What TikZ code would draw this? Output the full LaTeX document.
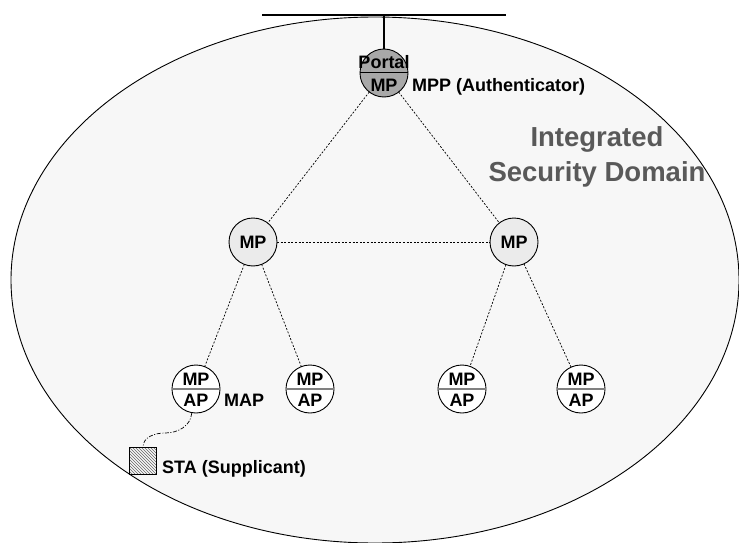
\documentclass[tikz,border=0pt]{standalone}
\usepackage{fontspec}
\setmainfont{Liberation Sans}
\usetikzlibrary{patterns}
\definecolor{bgfill}{HTML}{F7F7F7}
\definecolor{portalfill}{HTML}{A8A8A8}
\definecolor{mpfill}{HTML}{EBEBEB}
\definecolor{domaintext}{HTML}{595959}
\definecolor{divgray}{HTML}{808080}
\begin{document}
\begin{tikzpicture}[x=1pt,y=-1pt,
  font=\fontsize{18}{20}\selectfont\bfseries,
  txt/.style={inner sep=0pt},
  portalnode/.style={circle,draw=black,line width=0.9pt,fill=portalfill,minimum size=48pt,inner sep=0pt},
  mpnode/.style={circle,draw=black,line width=0.9pt,fill=mpfill,minimum size=48pt,inner sep=0pt},
  mapnode/.style={circle,draw=black,line width=0.9pt,fill=white,minimum size=48pt,inner sep=0pt},
  link/.style={line width=0.7pt,dash pattern=on 2pt off 1.6pt,shorten <=-0.5pt,shorten >=-0.5pt},
  stalink/.style={line width=0.7pt,dash pattern=on 4pt off 1.6pt on 1pt off 1.6pt},
  divider/.style={draw=divgray,line width=1.6pt},
  stabox/.style={draw=black,line width=0.7pt,fill=gray!25,pattern=north west lines,pattern color=gray!80!black,minimum size=27pt,inner sep=0pt}
]
\useasboundingbox (0,0) rectangle (739,543);
\fill[white] (0,0) rectangle (739,543);
% domain
\draw[fill=bgfill,line width=0.9pt] (375,280) ellipse [x radius=364, y radius=263];
\node[txt,align=center,text=domaintext,font=\fontsize{27.5}{35}\selectfont\bfseries] (domain) at (597,157) {Integrated\\Security Domain};
% bus
\coordinate (busL) at (262,15);
\coordinate (busR) at (506,15);
\coordinate (busT) at (384,15);
\draw[line width=1.1pt] (busL) -- (busR);
% nodes
\node[portalnode] (portal) at (384,73) {};
\node[mpnode] (mpL) at (253,242) {MP};
\node[mpnode] (mpR) at (514,242) {MP};
\node[mapnode] (map1) at (196,389) {};
\node[mapnode] (map2) at (310,389) {};
\node[mapnode] (map3) at (462,389) {};
\node[mapnode] (map4) at (581,389) {};
\draw[line width=1.1pt] (busT) -- (portal.north);
% portal internals
\draw[line width=1pt] (portal.west) -- (portal.east);
\node[txt,anchor=base] (portaltxt) at ([yshift=4pt]portal.center) {Portal};
\node[txt,anchor=base] (portalmp) at ([yshift=-19pt]portal.center) {MP};
% MAP internals
\foreach \n in {map1,map2,map3,map4}{
  \draw[divider] (\n.west) -- (\n.east);
  \node[txt,anchor=base] (\n mp) at ([yshift=4pt]\n.center) {MP};
  \node[txt,anchor=base] (\n ap) at ([yshift=-17pt]\n.center) {AP};
}
% labels
\node[txt,anchor=base west] (mpplabel) at (412,92) {MPP (Authenticator)};
\node[txt,anchor=base west] (maplabel) at (224,406) {MAP};
% STA
\node[stabox] (sta) at (143,461) {};
\node[txt,anchor=base west] (stalabel) at (162,473) {STA (Supplicant)};
% links
\draw[link] (portal) -- (mpL);
\draw[link] (portal) -- (mpR);
\draw[link] (mpL) -- (mpR);
\draw[link] (mpL) -- (map1);
\draw[link] (mpL) -- (map2);
\draw[link] (mpR) -- (map3);
\draw[link] (mpR) -- (map4);
\coordinate (stabend) at (165,433);
\draw[stalink] (map1.-100) to[out=-95,in=0] (stabend) to[out=180,in=90] (sta.north);
\end{tikzpicture}
\end{document}
